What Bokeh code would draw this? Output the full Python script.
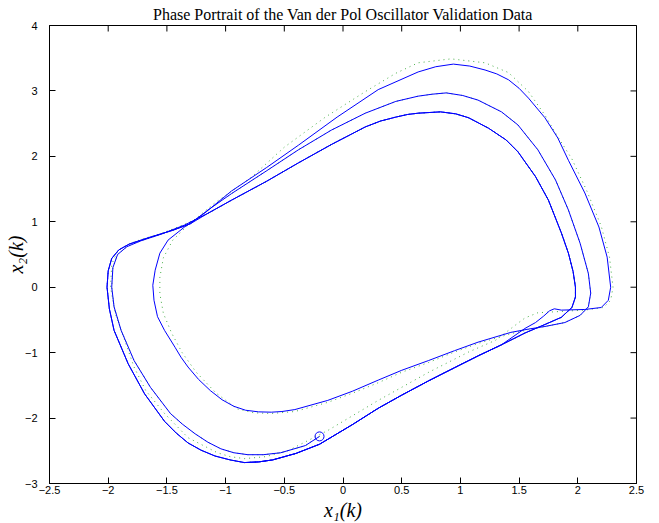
from math import pi
from bokeh.plotting import figure
from bokeh.models import Range1d, FixedTicker
from bokeh.embed import file_html
from bokeh.resources import INLINE

# ---- tick values ----
x_ticks = [-2.5, -2, -1.5, -1, -0.5, 0, 0.5, 1, 1.5, 2, 2.5]
y_ticks = [-3, -2, -1, 0, 1, 2, 3, 4]

# ---- blue (model) trajectory pieces ----
# first pass: start point (circle) -> bottom -> left side -> junction
b1_x = [-0.20, -0.32, -0.53, -0.68, -0.81, -0.93, -1.04, -1.15, -1.26, -1.37, -1.47, -1.64, -1.78, -1.89, -1.95, -1.97, -1.96, -1.92, -1.84, -1.72, -1.55, -1.35]
b1_y = [-2.28, -2.42, -2.53, -2.56, -2.56, -2.53, -2.47, -2.37, -2.24, -2.09, -1.93, -1.53, -1.12, -0.66, -0.30, 0.00, 0.30, 0.50, 0.62, 0.71, 0.81, 0.95]
# inner (thick) top arc and right side
tt_x = [-1.15, -0.95, -0.65, -0.38, -0.10, 0.19, 0.32, 0.45, 0.55, 0.64, 0.83, 0.96, 1.07, 1.24, 1.39, 1.49, 1.64, 1.75, 1.86, 1.92, 1.96, 1.98, 1.98, 1.95, 1.86, 1.72, 1.55]
tt_y = [1.13, 1.33, 1.62, 1.90, 2.18, 2.45, 2.54, 2.60, 2.64, 2.66, 2.68, 2.65, 2.59, 2.43, 2.25, 2.07, 1.69, 1.33, 0.83, 0.52, 0.24, 0.00, -0.15, -0.31, -0.46, -0.57, -0.70]
# lower bundle (right -> bottom)
bb_x = [1.35, 1.15, 0.95, 0.73, 0.50, 0.30, 0.08, -0.20, -0.40, -0.60, -0.72, -0.84]
bb_y = [-0.88, -1.05, -1.23, -1.43, -1.65, -1.85, -2.10, -2.40, -2.54, -2.64, -2.67, -2.68]
# left bundle (bottom -> junction)
lb_x = [-0.96, -1.09, -1.21, -1.32, -1.42, -1.52, -1.69, -1.83, -1.95, -1.99, -2.01, -2.00, -1.97, -1.91, -1.82, -1.65, -1.45, -1.30]
lb_y = [-2.64, -2.58, -2.49, -2.38, -2.23, -2.05, -1.63, -1.17, -0.66, -0.33, 0.00, 0.25, 0.44, 0.57, 0.66, 0.76, 0.87, 0.97]
# middle top arc and right side
md_x = [-1.15, -0.95, -0.65, -0.38, -0.10, 0.19, 0.45, 0.64, 0.76, 0.88, 1.02, 1.15, 1.35, 1.49, 1.66, 1.81, 1.92, 2.02, 2.09, 2.11, 2.09, 2.02, 1.89, 1.72]
md_y = [1.18, 1.43, 1.78, 2.10, 2.40, 2.66, 2.84, 2.92, 2.95, 2.97, 2.93, 2.86, 2.68, 2.48, 2.10, 1.64, 1.18, 0.67, 0.21, -0.09, -0.30, -0.43, -0.54, -0.60]
# small loop bottom, inner left side, steep rise, outer arc, right side, bump
in_x = [1.58, 1.43, 1.15, 0.95, 0.73, 0.50, 0.30, 0.08, -0.13, -0.41, -0.52, -0.61, -0.72, -0.83, -0.93, -1.03, -1.13, -1.23, -1.32, -1.38, -1.43, -1.52, -1.58, -1.61, -1.62, -1.60, -1.56, -1.49, -1.35, -1.18, -0.95, -0.65, -0.38, -0.05, 0.30, 0.64, 0.79, 0.94, 1.08, 1.21, 1.31, 1.41, 1.50, 1.58, 1.72, 1.83, 1.92, 2.06, 2.18, 2.25, 2.28, 2.26, 2.20, 2.06, 1.86, 1.80, 1.76, 1.71, 1.64, 1.55]
in_y = [-0.64, -0.69, -0.84, -0.97, -1.12, -1.27, -1.42, -1.59, -1.73, -1.87, -1.90, -1.91, -1.905, -1.88, -1.82, -1.72, -1.58, -1.41, -1.22, -1.07, -0.92, -0.66, -0.45, -0.20, 0.03, 0.26, 0.52, 0.72, 0.92, 1.13, 1.47, 1.83, 2.17, 2.60, 3.02, 3.29, 3.37, 3.41, 3.38, 3.32, 3.26, 3.17, 3.04, 2.89, 2.59, 2.28, 1.94, 1.44, 0.92, 0.46, 0.00, -0.20, -0.31, -0.34, -0.35, -0.33, -0.36, -0.44, -0.54, -0.63]

# ---- green dotted (measured) trajectory piece where it departs from blue ----
gi_x = [1.58, 1.43, 1.15, 0.95, 0.73, 0.50, 0.30, 0.08, -0.13, -0.41, -0.61, -0.76, -0.90, -1.08, -1.25, -1.37, -1.46, -1.53, -1.56, -1.56, -1.53, -1.45, -1.32, -1.09, -0.78, -0.50, -0.15, 0.19, 0.45, 0.64, 0.92, 1.21, 1.41, 1.58, 1.72, 1.83, 1.95, 2.08, 2.20, 2.27, 2.30, 2.28, 2.22, 2.06, 1.86, 1.66, 1.55, 1.49, 1.30, 1.07, 0.73, 0.30, -0.13, -0.47, -0.66, -0.84, -0.96, -1.07, -1.32, -1.52, -1.68, -1.78, -1.85, -1.94, -1.98, -1.97, -1.92, -1.84, -1.72, -1.55, -1.35]
gi_y = [-0.65, -0.71, -0.86, -0.99, -1.15, -1.30, -1.46, -1.62, -1.76, -1.90, -1.93, -1.92, -1.86, -1.62, -1.30, -1.00, -0.70, -0.40, -0.10, 0.15, 0.45, 0.72, 0.95, 1.29, 1.68, 2.14, 2.60, 2.99, 3.27, 3.43, 3.49, 3.43, 3.28, 2.99, 2.63, 2.30, 1.96, 1.46, 0.93, 0.46, 0.00, -0.20, -0.31, -0.35, -0.37, -0.39, -0.47, -0.55, -0.81, -0.99, -1.30, -1.73, -2.19, -2.50, -2.59, -2.62, -2.59, -2.53, -2.30, -1.93, -1.58, -1.22, -0.86, -0.40, 0.00, 0.35, 0.55, 0.65, 0.73, 0.82, 0.96]

# full paths in time order
blue_x = b1_x + tt_x + bb_x + lb_x + md_x + in_x + bb_x + lb_x + tt_x + bb_x
blue_y = b1_y + tt_y + bb_y + lb_y + md_y + in_y + bb_y + lb_y + tt_y + bb_y
green_x = b1_x + tt_x + bb_x + lb_x + md_x + gi_x + tt_x + bb_x
green_y = b1_y + tt_y + bb_y + lb_y + md_y + gi_y + tt_y + bb_y

start_x = [b1_x[0]]
start_y = [b1_y[0]]

X_MIN, X_MAX = x_ticks[0], x_ticks[-1]
Y_MIN, Y_MAX = y_ticks[0], y_ticks[-1]

p = figure(width=659, height=523, output_backend="svg", toolbar_location=None,
           x_range=Range1d(X_MIN, X_MAX), y_range=Range1d(Y_MIN, Y_MAX),
           title="Phase Portrait of the Van der Pol Oscillator Validation Data",
           min_border_left=49, min_border_right=23, min_border_top=25, min_border_bottom=40)

p.title.align = "center"
p.title.text_font = "Liberation Serif"
p.title.text_font_size = "16px"
p.title.text_font_style = "normal"
p.title.text_color = "black"
p.title.standoff = 5

p.xgrid.visible = False
p.ygrid.visible = False
p.outline_line_color = "black"
p.outline_line_width = 1
p.background_fill_color = "white"
p.border_fill_color = "white"

def minus(v):
    return ("%g" % v).replace("-", "\u2212")

xa = p.below[0]
ya = p.left[0]
for ax, ticks in ((xa, x_ticks), (ya, y_ticks)):
    ax.ticker = FixedTicker(ticks=ticks)
    ax.major_label_overrides = {t: minus(t) for t in ticks}
    ax.major_tick_in = 6
    ax.major_tick_out = 0
    ax.minor_tick_line_color = None
    ax.axis_line_color = "black"
    ax.major_tick_line_color = "black"
    ax.major_label_text_font = "Liberation Sans"
    ax.major_label_text_font_size = "11px"
    ax.major_label_text_color = "black"
    ax.axis_label_text_font = "Liberation Serif"
    ax.axis_label_text_font_style = "italic"
    ax.axis_label_text_font_size = "20px"
    ax.axis_label_text_color = "black"

xa.axis_label = "x\u2081(k)"
ya.axis_label = "x\u2082(k)"
xa.major_label_standoff = 2
xa.axis_label_standoff = 2
ya.major_label_standoff = 12
ya.axis_label_standoff = -5

# inward ticks on the top and right edges of the box (half of each dash is clipped)
p.scatter(x_ticks, [Y_MAX] * len(x_ticks), marker="dash", angle=pi / 2, size=12,
          line_color="black", line_width=1)
p.scatter([X_MAX] * len(y_ticks), y_ticks, marker="dash", size=12,
          line_color="black", line_width=1)

p.line(green_x, green_y, line_color="#1a9a1a", line_width=1, line_dash="1 4", line_alpha=0.8)
p.line(blue_x, blue_y, line_color="#0000ff", line_width=1)
p.scatter(start_x, start_y, marker="circle", size=9, fill_color=None, line_color="#0000ff", line_width=1)

open("out.html", "w").write(file_html(p, INLINE))
